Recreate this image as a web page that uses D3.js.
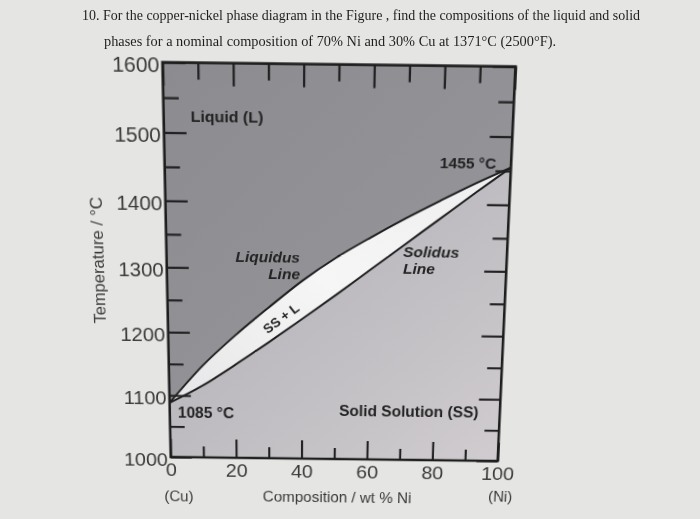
<!DOCTYPE html>
<html><head><meta charset="utf-8">
<script src="https://cdn.jsdelivr.net/npm/d3@7"></script>
<style>
html,body{margin:0;padding:0;width:700px;height:519px;overflow:hidden;background:#e5e6e3;}
#chart{position:absolute;left:0;top:0;overflow:visible;transform-origin:336.5px 269.3px;transform:rotate(0.7deg) perspective(1000px) rotateX(-11.03deg);}
#note{position:absolute;left:0;top:0;}
</style></head><body>
<svg id="chart" width="700" height="580"></svg>
<svg id="note" width="700" height="519"></svg>
<script>
// ---- data ----
const compositions   = [0, 10, 20, 30, 40, 50, 60, 70, 80, 90, 100];          // wt % Ni
const liquidusTemps  = [1088, 1147, 1196, 1240, 1282, 1318, 1349, 1378, 1405, 1431, 1455];
const solidusTemps   = [1088, 1116, 1150, 1186, 1223, 1261, 1300, 1339, 1378, 1417, 1455];
const tempMajorTicks = [1000, 1100, 1200, 1300, 1400, 1500, 1600];
const tempMinorTicks = [1050, 1150, 1250, 1350, 1450, 1550];
const compMajorTicks = [0, 20, 40, 60, 80, 100];
const compMinorTicks = [10, 30, 50, 70, 90];
const questionLines  = [
  "10. For the copper-nickel phase diagram in the Figure , find the compositions of the liquid and solid",
  "phases for a nominal composition of 70% Ni and 30% Cu at 1371°C (2500°F)."
];

(function () {
// ---- photo geometry (perspective of the photographed page) ----
const CX = 336.5, CY = 269.3, COSP = Math.cos(11.03 * Math.PI / 180), K = Math.sin(11.03 * Math.PI / 180) / 1000;
const SR = Math.sin(0.7 * Math.PI / 180), CR = Math.cos(0.7 * Math.PI / 180);
function fromPhoto(X, Y) {
  const dX = X - CX, dY = Y - CY;
  const x1 = dX * CR + dY * SR, y1 = -dX * SR + dY * CR;
  const v = y1 / (COSP - K * y1);
  const u = x1 * (1 + K * v);
  return [CX + u, CY + v, 1 + K * v];
}

const svg = d3.select("#chart");
const W = 339.5, H = 401.4;
const pLeft = CX - W / 2, pRight = CX + W / 2, pTop = CY - H / 2, pBottom = CY + H / 2;
const x = d3.scaleLinear().domain([0, 100]).range([pLeft, pRight]);
const y = d3.scaleLinear().domain([1000, 1600]).range([pBottom, pTop]);

const defs = svg.append("defs");
const gSolid = defs.append("linearGradient").attr("id", "solidGrad").attr("x1", 0).attr("y1", 0).attr("x2", 1).attr("y2", 1);
gSolid.append("stop").attr("offset", "0%").attr("stop-color", "#adadb1");
gSolid.append("stop").attr("offset", "100%").attr("stop-color", "#d0ccd0");
const gLiq = defs.append("linearGradient").attr("id", "liqGrad").attr("x1", 0).attr("y1", 0).attr("x2", 1).attr("y2", 1);
gLiq.append("stop").attr("offset", "0%").attr("stop-color", "#8b8b90");
gLiq.append("stop").attr("offset", "100%").attr("stop-color", "#97979c");
const gLens = defs.append("linearGradient").attr("id", "lensGrad").attr("x1", 0).attr("y1", 1).attr("x2", 1).attr("y2", 0);
gLens.append("stop").attr("offset", "0%").attr("stop-color", "#e6e6e8");
gLens.append("stop").attr("offset", "50%").attr("stop-color", "#f6f6f6");
gLens.append("stop").attr("offset", "100%").attr("stop-color", "#eeeef0");

const pts = compositions.map((c, i) => ({c, liq: liquidusTemps[i], sol: solidusTemps[i]}));
const curve = d3.curveMonotoneX;

svg.append("path").datum(pts)
  .attr("d", d3.area().x(d => x(d.c)).y0(y(1600)).y1(d => y(d.liq)).curve(curve))
  .attr("fill", "url(#liqGrad)");
svg.append("path").datum(pts)
  .attr("d", d3.area().x(d => x(d.c)).y0(y(1000)).y1(d => y(d.sol)).curve(curve))
  .attr("fill", "url(#solidGrad)");
svg.append("path").datum(pts)
  .attr("d", d3.area().x(d => x(d.c)).y0(d => y(d.sol)).y1(d => y(d.liq)).curve(curve))
  .attr("fill", "url(#lensGrad)");
svg.append("path").datum(pts)
  .attr("d", d3.line().x(d => x(d.c)).y(d => y(d.liq)).curve(curve))
  .attr("fill", "none").attr("stroke", "#1e1e1e").attr("stroke-width", 2);
svg.append("path").datum(pts)
  .attr("d", d3.line().x(d => x(d.c)).y(d => y(d.sol)).curve(curve))
  .attr("fill", "none").attr("stroke", "#1e1e1e").attr("stroke-width", 2);

// axes
function styleAxis(g) {
  g.select(".domain").remove();
  g.selectAll(".tick line").attr("stroke", "#222").attr("stroke-width", 2.2);
  g.selectAll(".tick text").attr("fill", "#3a3a3a").attr("font-family", "'Liberation Sans', Arial, sans-serif");
}
svg.append("g").attr("transform", `translate(${pLeft},0)`)
  .call(d3.axisLeft(y).tickValues(tempMajorTicks).tickSize(-22).tickSizeOuter(0).tickPadding(3).tickFormat(d3.format("d")))
  .call(styleAxis)
  .call(g => g.selectAll(".tick text").attr("font-size", 20.5).attr("dy", "0.45em"));
svg.append("g").attr("transform", `translate(${pLeft},0)`)
  .call(d3.axisLeft(y).tickValues(tempMinorTicks).tickSize(-15).tickSizeOuter(0).tickFormat(""))
  .call(styleAxis);
svg.append("g").attr("transform", `translate(${pRight},0)`)
  .call(d3.axisRight(y).tickValues(tempMajorTicks).tickSize(-22).tickSizeOuter(0).tickFormat(""))
  .call(styleAxis);
svg.append("g").attr("transform", `translate(${pRight},0)`)
  .call(d3.axisRight(y).tickValues(tempMinorTicks).tickSize(-15).tickSizeOuter(0).tickFormat(""))
  .call(styleAxis);
svg.append("g").attr("transform", `translate(0,${pTop})`)
  .call(d3.axisTop(x).tickValues(compMajorTicks).tickSize(-22).tickSizeOuter(0).tickFormat(""))
  .call(styleAxis);
svg.append("g").attr("transform", `translate(0,${pTop})`)
  .call(d3.axisTop(x).tickValues(compMinorTicks).tickSize(-16).tickSizeOuter(0).tickFormat(""))
  .call(styleAxis);
svg.append("g").attr("transform", `translate(0,${pBottom})`)
  .call(d3.axisBottom(x).tickValues(compMajorTicks).tickSize(-20).tickSizeOuter(0).tickPadding(6))
  .call(styleAxis)
  .call(g => g.selectAll(".tick text").attr("font-size", 20.5));
svg.append("g").attr("transform", `translate(0,${pBottom})`)
  .call(d3.axisBottom(x).tickValues(compMinorTicks).tickSize(-12).tickSizeOuter(0).tickFormat(""))
  .call(styleAxis);

svg.append("rect").attr("x", pLeft).attr("y", pTop).attr("width", W).attr("height", H)
  .attr("fill", "none").attr("stroke", "#1e1e1e").attr("stroke-width", 2.6);

// labels placed at their spot in the photo
function label(text, X, Y, size, o = {}) {
  const [lx, ly, s] = fromPhoto(X, Y);
  const t = svg.append("text").attr("x", lx).attr("y", ly).text(text)
    .attr("font-size", size * s)
    .attr("font-family", "'Liberation Sans', Arial, sans-serif")
    .attr("fill", o.fill || "#232323")
    .attr("font-weight", o.weight || "bold")
    .attr("font-style", o.style || "normal")
    .attr("text-anchor", o.anchor || "start");
  if (o.rotate !== undefined) t.attr("transform", `rotate(${o.rotate},${lx},${ly})`);
  return t;
}
label("Liquid (L)", 227, 122.5, 16, {anchor: "middle"});
label("1455 °C", 496, 168.5, 15.5, {anchor: "end"});
label("Liquidus", 300, 262.5, 15.5, {anchor: "end", style: "italic"});
label("Line", 300, 279, 15.5, {anchor: "end", style: "italic"});
label("Solidus", 403, 257.5, 15.5, {style: "italic"});
label("Line", 403, 273.5, 15.5, {style: "italic"});
label("SS + L", 284, 322, 13.5, {anchor: "middle", rotate: -38});
label("1085 °C", 178, 417.5, 15.5);
label("Solid Solution (SS)", 339, 415.5, 15.5);
label("(Cu)", 179, 501, 15, {anchor: "middle", weight: "normal", fill: "#3a3a3a"});
label("(Ni)", 500, 502, 15, {anchor: "middle", weight: "normal", fill: "#3a3a3a"});
label("Composition / wt % Ni", 337, 502, 15.2, {anchor: "middle", weight: "normal", fill: "#3a3a3a"});
label("Temperature / °C", 104, 261, 17, {anchor: "middle", weight: "normal", fill: "#3a3a3a", rotate: -90});

// question text (flat on the page)
const note = d3.select("#note");
note.selectAll("text.q").data(questionLines).join("text")
  .attr("class", "q")
  .attr("x", (d, i) => i === 0 ? 82 : 104)
  .attr("y", (d, i) => i === 0 ? 20 : 46)
  .attr("textLength", (d, i) => i === 0 ? 558 : 452)
  .attr("lengthAdjust", "spacingAndGlyphs")
  .attr("font-family", "'Liberation Serif', 'Times New Roman', serif")
  .attr("font-size", 15.5)
  .attr("fill", "#1e1e1e")
  .text(d => d);
})();
</script>
</body></html>
